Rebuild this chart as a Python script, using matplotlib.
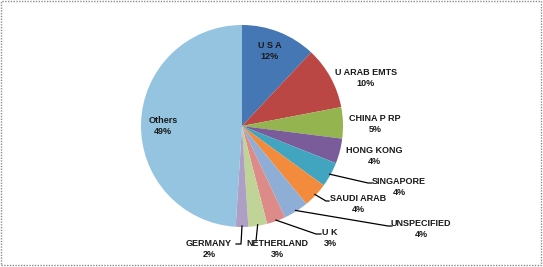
import matplotlib
matplotlib.use("Agg")
import matplotlib.pyplot as plt
from matplotlib.patches import Rectangle
from matplotlib import font_manager
import numpy as np

# Export destinations, share of total (%)
countries = ["U S A", "U ARAB EMTS", "CHINA P RP", "HONG KONG", "SINGAPORE",
             "SAUDI ARAB", "UNSPECIFIED", "U K", "NETHERLAND", "GERMANY", "Others"]
shares = [12, 10, 5, 4, 4, 4, 4, 3, 3, 2, 49]

colors = ["#4677B5", "#BA4744", "#93B44F", "#7A5C9B", "#41A5C0", "#F28C3C",
          "#8FAED6", "#DC8B89", "#BFD496", "#AE9FC5", "#94C4E0"]

names = {f.name for f in font_manager.fontManager.ttflist}
label_font = "Liberation Sans Narrow" if "Liberation Sans Narrow" in names else "Liberation Sans"
label_size = 7.6 if label_font == "Liberation Sans Narrow" else 6.5

W, H = 543, 267
fig = plt.figure(figsize=(W / 100, H / 100), dpi=100)
ax = fig.add_axes([0, 0, 1, 1])

cx, cy, r = 242, H - 126, 101
wedges, _ = ax.pie(shares, colors=colors, startangle=90, counterclock=False,
                   center=(cx, cy), radius=r, frame=True,
                   wedgeprops=dict(linewidth=0))
ax.set_xlim(0, W)
ax.set_ylim(0, H)
ax.set_aspect("equal")
ax.axis("off")

# label block centres (pixel coords from top-left) and optional leader elbows
label_pos = [(270, 51), (366, 78), (375, 124), (374, 156), (399, 187),
             (358, 204), (421, 229), (330, 238), (277, 249), (209, 249),
             (163, 126)]
leaders = {
    4: [(368, 183), (372, 183)],
    5: [(326, 201), (329, 201)],
    6: [(388, 226), (392, 226)],
    7: [(316, 234), (321, 234)],
    8: [(256, 241)],
    9: [(241, 244), (236, 244)],
}

for i, (name, val) in enumerate(zip(countries, shares)):
    lx, ly = label_pos[i]
    ax.text(lx, H - ly, f"{name}\n{val}%", ha="center", va="center",
            fontsize=label_size, fontweight="bold", family=label_font,
            color="#1a1a1a", linespacing=1.3)
    if i in leaders:
        w = wedges[i]
        mid = np.deg2rad((w.theta1 + w.theta2) / 2)
        sx, sy = cx + (r - 1) * np.cos(mid), cy + (r - 1) * np.sin(mid)
        pts = [(sx, sy)] + [(px, H - py) for px, py in leaders[i]]
        xs, ys = zip(*pts)
        ax.plot(xs, ys, color="black", linewidth=0.9)

# dotted frame around the chart area
fig.patches.append(Rectangle((0.5 / W, 2.5 / H), (W - 2.5) / W, (H - 3.5) / H,
                             transform=fig.transFigure, fill=False,
                             edgecolor="#8c8c8c", linewidth=1.0,
                             linestyle=(0, (1, 1))))

fig.savefig("out.png", dpi=100)
